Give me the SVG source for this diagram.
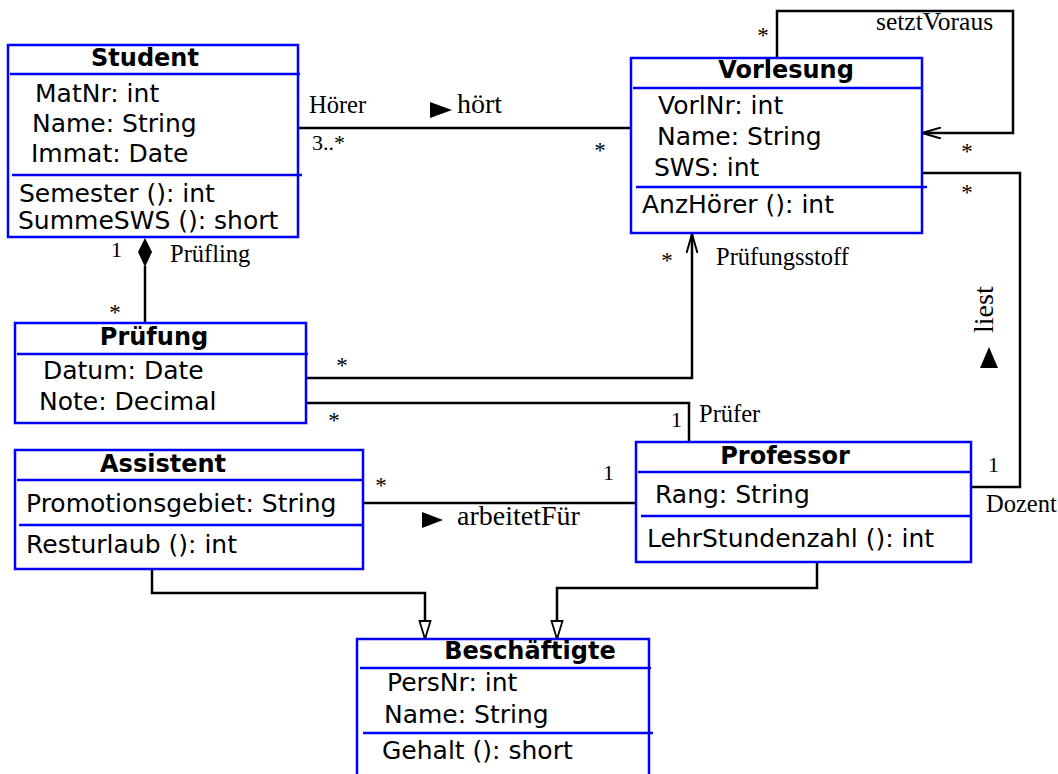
<svg xmlns="http://www.w3.org/2000/svg" width="1058" height="774" viewBox="0 0 1058 774">
  <style>
    .box { fill: #fff; stroke: #0000ff; stroke-width: 2.5; }
    .sep { stroke: #0000ff; stroke-width: 2.5; }
    .title { font-family: "DejaVu Sans", sans-serif; font-weight: bold; font-size: 24px; fill: #000; text-anchor: middle; }
    .attr { font-family: "DejaVu Sans", sans-serif; font-size: 25px; fill: #000; }
    .conn { fill: none; stroke: #000; stroke-width: 2.5; }
    .lbl { font-family: "Liberation Serif", serif; font-size: 24.5px; fill: #000; }
    .name { font-family: "Liberation Serif", serif; font-size: 28px; fill: #000; }
    .mult { font-family: "Liberation Serif", serif; font-size: 22px; fill: #000; }
    .star { font-family: "Liberation Serif", serif; font-size: 23px; fill: #000; text-anchor: middle; }
    .dir { fill: #000; stroke: none; }
  </style>
  <defs>
    <marker id="open" viewBox="0 0 20 12" refX="19" refY="6" markerWidth="20" markerHeight="12" markerUnits="userSpaceOnUse" orient="auto">
      <path d="M0,0.5 L19,6 L0,11.5" fill="none" stroke="#000" stroke-width="2"/>
    </marker>
    <marker id="gen" viewBox="0 0 20 14" refX="19" refY="7" markerWidth="20" markerHeight="14" markerUnits="userSpaceOnUse" orient="auto">
      <path d="M1,1.5 L19,7 L1,12.5 Z" fill="#fff" stroke="#000" stroke-width="1.8"/>
    </marker>
  </defs>

  <!-- connectors -->
  <g id="connectors">
    <!-- Student hört Vorlesung -->
    <path class="conn" d="M298,128 H631"/>
    <!-- Vorlesung setztVoraus Vorlesung -->
    <path class="conn" d="M777,58 V11 H1013 V133 H922" marker-end="url(#open)"/>
    <!-- Student / Prüfung composition -->
    <path class="conn" d="M145,266 V323"/>
    <path d="M145,238 L152,252 L145,267 L138,252 Z" fill="#000"/>
    <!-- Prüfungsstoff -->
    <path class="conn" d="M306,378 H692 V234" marker-end="url(#open)"/>
    <!-- Prüfer -->
    <path class="conn" d="M306,403 H689 V442"/>
    <!-- liest -->
    <path class="conn" d="M971,487 H1020 V173 H920"/>
    <!-- arbeitetFür -->
    <path class="conn" d="M363,503 H636"/>
    <!-- generalizations -->
    <path class="conn" d="M152,569 V593 H425 V639" marker-end="url(#gen)"/>
    <path class="conn" d="M817,562 V588 H557 V639" marker-end="url(#gen)"/>

    <!-- reading-direction triangles -->
    <path class="dir" d="M430,102 L452,110 L430,118 Z"/>
    <path class="dir" d="M422,512 L443,520 L422,528 Z"/>
    <path class="dir" d="M989,347 L998,368 L980,368 Z"/>

    <!-- association names and roles -->
    <text class="lbl" x="876" y="30" style="font-size:25.5px">setztVoraus</text>
    <text class="lbl" x="309" y="113">Hörer</text>
    <text class="name" x="457" y="113">hört</text>
    <text class="mult" x="312" y="150">3..*</text>
    <text class="lbl" x="170" y="262">Prüfling</text>
    <text class="lbl" x="716" y="265">Prüfungsstoff</text>
    <text class="lbl" x="699" y="422">Prüfer</text>
    <text class="name" x="457" y="525">arbeitetFür</text>
    <text class="lbl" x="986" y="512">Dozent</text>
    <text class="name" transform="translate(993,333) rotate(-90)">liest</text>

    <!-- multiplicities -->
    <text class="mult" x="111" y="257">1</text>
    <text class="mult" x="671" y="427">1</text>
    <text class="mult" x="603" y="480">1</text>
    <text class="mult" x="988" y="472">1</text>
    <text class="star" x="763" y="43">*</text>
    <text class="star" x="967" y="159">*</text>
    <text class="star" x="967" y="200">*</text>
    <text class="star" x="600" y="158">*</text>
    <text class="star" x="667" y="268">*</text>
    <text class="star" x="115" y="320">*</text>
    <text class="star" x="342" y="373">*</text>
    <text class="star" x="334" y="428">*</text>
    <text class="star" x="381" y="493">*</text>
  </g>

  <!-- classes -->
  <g id="Student">
    <rect class="box" x="8" y="45" width="290" height="192"/>
    <line class="sep" x1="10" y1="74" x2="300" y2="74"/>
    <line class="sep" x1="12" y1="175" x2="302" y2="175"/>
    <text class="title" x="145" y="66">Student</text>
    <text class="attr" x="35" y="102">MatNr: int</text>
    <text class="attr" x="32" y="132">Name: String</text>
    <text class="attr" x="31" y="162">Immat: Date</text>
    <text class="attr" x="19" y="202">Semester (): int</text>
    <text class="attr" x="18" y="229">SummeSWS (): short</text>
  </g>

  <g id="Vorlesung">
    <rect class="box" x="631" y="58" width="291" height="175"/>
    <line class="sep" x1="633" y1="88" x2="923" y2="88"/>
    <line class="sep" x1="636" y1="187" x2="927" y2="187"/>
    <text class="title" x="786" y="78">Vorlesung</text>
    <text class="attr" x="658" y="114">VorlNr: int</text>
    <text class="attr" x="657" y="145">Name: String</text>
    <text class="attr" x="654" y="176">SWS: int</text>
    <text class="attr" x="642" y="213">AnzHörer (): int</text>
  </g>

  <g id="Pruefung">
    <rect class="box" x="15" y="323" width="291" height="100"/>
    <line class="sep" x1="17" y1="354" x2="308" y2="354"/>
    <text class="title" x="154" y="345">Prüfung</text>
    <text class="attr" x="43" y="379">Datum: Date</text>
    <text class="attr" x="39" y="410">Note: Decimal</text>
  </g>

  <g id="Assistent">
    <rect class="box" x="15" y="450" width="348" height="119"/>
    <line class="sep" x1="17" y1="480" x2="363" y2="480"/>
    <line class="sep" x1="19" y1="525" x2="363" y2="525"/>
    <text class="title" x="163" y="472">Assistent</text>
    <text class="attr" x="26" y="512">Promotionsgebiet: String</text>
    <text class="attr" x="26" y="553">Resturlaub (): int</text>
  </g>

  <g id="Professor">
    <rect class="box" x="636" y="442" width="335" height="120"/>
    <line class="sep" x1="638" y1="472" x2="971" y2="472"/>
    <line class="sep" x1="641" y1="516" x2="971" y2="516"/>
    <text class="title" x="785" y="464">Professor</text>
    <text class="attr" x="655" y="503">Rang: String</text>
    <text class="attr" x="647" y="547">LehrStundenzahl (): int</text>
  </g>

  <g id="Beschaeftigte">
    <rect class="box" x="357" y="639" width="292" height="150"/>
    <line class="sep" x1="360" y1="668" x2="651" y2="668"/>
    <line class="sep" x1="363" y1="733" x2="653" y2="733"/>
    <text class="title" x="530" y="659">Beschäftigte</text>
    <text class="attr" x="387" y="691">PersNr: int</text>
    <text class="attr" x="384" y="723">Name: String</text>
    <text class="attr" x="382" y="759">Gehalt (): short</text>
  </g>
</svg>
